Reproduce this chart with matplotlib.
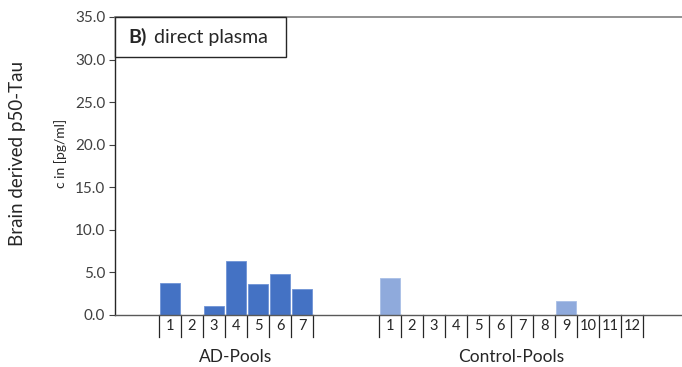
import numpy as np
import matplotlib
matplotlib.use("Agg")
from matplotlib import pyplot as plt
from matplotlib.patches import Rectangle

plt.rcParams['font.family'] = ['Lato', 'DejaVu Sans']

# measured concentrations, c in pg/ml
ad_labels = ['1', '2', '3', '4', '5', '6', '7']
ad_values = [3.8, 0.0, 1.0, 6.3, 3.6, 4.8, 3.1]
ctrl_labels = ['1', '2', '3', '4', '5', '6', '7', '8', '9', '10', '11', '12']
ctrl_values = [4.3, 0.0, 0.0, 0.0, 0.0, 0.0, 0.0, 0.0, 1.7, 0.0, 0.0, 0.0]
group_names = ['AD-Pools', 'Control-Pools']
y_ticks = [0, 5, 10, 15, 20, 25, 30, 35]

ad_color = '#4472C4'
ctrl_color = '#8FAADC'

# control pools start after a gap of three empty slots
ad_x = np.arange(len(ad_values))
ctrl_x = np.arange(len(ctrl_values)) + len(ad_values) + 3

fig = plt.figure(figsize=(6.82, 3.67), dpi=100)
ax = fig.add_axes([115 / 682, 52 / 367, 1 - 115 / 682, 298 / 367])

ax.bar(ad_x, ad_values, width=0.9, color=ad_color, edgecolor='#6f93d6', linewidth=0.6)
ax.bar(ctrl_x, ctrl_values, width=0.9, color=ctrl_color, edgecolor='#a9bfe6', linewidth=0.6)

ax.set_ylim(0, 35)
ax.set_xlim(-2.5, 23.27)
ax.set_yticks(y_ticks)
ax.set_yticklabels([f"{v:.1f}" for v in y_ticks], fontsize=11, color='#404040')
ax.tick_params(axis='y', direction='out', length=4, width=0.8, color='#404040', pad=3)
ax.set_xticks([])

ax.spines['right'].set_visible(False)
ax.spines['left'].set_color('#262626')
ax.spines['left'].set_linewidth(1.0)
ax.spines['top'].set_color('#7f7f7f')
ax.spines['top'].set_linewidth(1.2)
ax.spines['bottom'].set_color('#595959')
ax.spines['bottom'].set_linewidth(1.0)

# category row below the axis with separators
trans = ax.get_xaxis_transform()
for xs, labels in [(ad_x, ad_labels), (ctrl_x, ctrl_labels)]:
    edges = list(xs - 0.5) + [xs[-1] + 0.5]
    for e in edges:
        ax.plot([e, e], [0, -0.074], transform=trans, color='#262626',
                linewidth=0.9, clip_on=False)
    for x, lab in zip(xs, labels):
        ax.text(x, -0.038, lab, transform=trans, ha='center', va='center',
                fontsize=10.5, color='#262626')

ax.text(ad_x.mean(), -0.14, group_names[0], transform=trans, ha='center',
        va='center', fontsize=12.5, color='#262626')
ax.text(ctrl_x.mean(), -0.14, group_names[1], transform=trans, ha='center',
        va='center', fontsize=12.5, color='#262626')

# panel title box
ax.add_patch(Rectangle((0, 1 - 40 / 298), 171 / 567, 40 / 298, transform=ax.transAxes,
                       facecolor='white', edgecolor='#262626', linewidth=1.0,
                       clip_on=False, zorder=5))
ax.text(13 / 567, 1 - 20 / 298, 'B)', transform=ax.transAxes, ha='left', va='center',
        fontsize=14, fontweight='bold', color='#262626', zorder=6)
ax.text(39 / 567, 1 - 20 / 298, 'direct plasma', transform=ax.transAxes, ha='left',
        va='center', fontsize=14, color='#262626', zorder=6)

fig.text(18 / 682, 1 - 153 / 367, 'Brain derived p50-Tau', rotation=90, ha='center',
         va='center', fontsize=13.5, color='#262626')
fig.text(61 / 682, 1 - 153 / 367, 'c in [pg/ml]', rotation=90, ha='center',
         va='center', fontsize=10, color='#262626')

fig.savefig('out.png', dpi=100)
